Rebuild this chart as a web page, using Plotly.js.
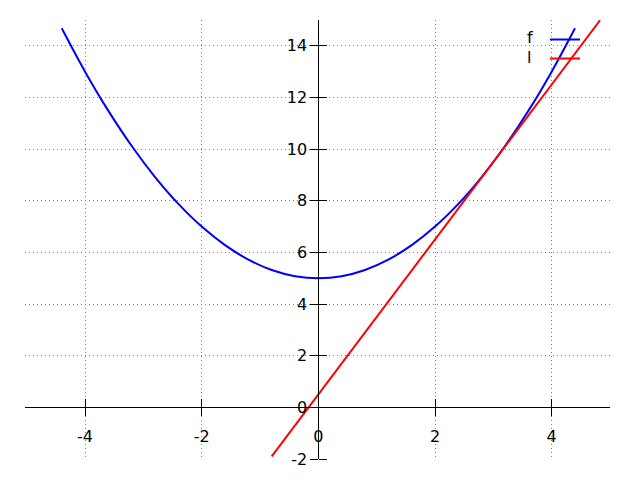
<!DOCTYPE html>
<html>
<head>
<meta charset="utf-8">
<script src="https://cdn.plot.ly/plotly-3.0.1.min.js"></script>
<style>html,body{margin:0;padding:0;background:#fff;}#chart{width:640px;height:480px;}</style>
</head>
<body>
<div id="chart"></div>
<script>
// f(x) curve
var fX = [-4.4, -4.0, -3.6, -3.2, -2.8, -2.4, -2.0, -1.6, -1.2, -0.8, -0.4, 0.0,
          0.4, 0.8, 1.2, 1.6, 2.0, 2.4, 2.8, 3.2, 3.6, 4.0, 4.4];
var fY = [14.68, 13.0, 11.48, 10.12, 8.92, 7.88, 7.0, 6.28, 5.72, 5.32, 5.08, 5.0,
          5.08, 5.32, 5.72, 6.28, 7.0, 7.88, 8.92, 10.12, 11.48, 13.0, 14.68];
// tangent line l(x)
var lX = [-0.8, 4.83];
var lY = [-1.9, 14.99];

var xTicks = [-4, -2, 0, 2, 4];
var yTicks = [-2, 0, 2, 4, 6, 8, 10, 12, 14];
var seriesNames = ["f", "l"];

var xRange = [-5.03, 5.0];
var yRange = [-2, 15];
var xZeroPos = (0 - xRange[0]) / (xRange[1] - xRange[0]);
var yZeroPos = (0 - yRange[0]) / (yRange[1] - yRange[0]);

var font = {family: "DejaVu Sans, sans-serif", size: 16, color: "#000"};
var gridCol = "#808080";

var traces = [
  {x: fX, y: fY, type: "scatter", mode: "lines", name: " ",
   line: {color: "#0000ff", width: 2, shape: "spline"}, hoverinfo: "skip"},
  {x: lX, y: lY, type: "scatter", mode: "lines", name: " ",
   line: {color: "#ff0000", width: 2}, hoverinfo: "skip"}
];

var layout = {
  width: 640, height: 480,
  margin: {l: 25, r: 30, t: 20, b: 21, pad: 0},
  paper_bgcolor: "#fff", plot_bgcolor: "#fff",
  font: font,
  showlegend: true,
  legend: {x: (545 - 25) / 585, y: (459 - 25) / 439, xanchor: "left", yanchor: "top",
           bgcolor: "rgba(0,0,0,0)", borderwidth: 0,
           font: {family: "DejaVu Sans, sans-serif", size: 11, color: "#000"},
           tracegroupgap: 0, itemwidth: 30},
  xaxis: {range: xRange, anchor: "free", position: yZeroPos,
          showline: true, linecolor: "#000", linewidth: 1,
          ticks: "outside", ticklen: 8, tickwidth: 1, tickcolor: "#000",
          tickvals: xTicks, ticktext: xTicks.map(String),
          showgrid: true, gridcolor: gridCol, gridwidth: 1, griddash: "1px,3px",
          zeroline: false, tickfont: font, ticklabelstandoff: 6, fixedrange: true},
  xaxis2: {range: xRange, overlaying: "x", anchor: "free", position: yZeroPos,
           showline: false, ticks: "outside", ticklen: 8, tickwidth: 1, tickcolor: "#000",
           tickvals: xTicks, showticklabels: false, showgrid: false, zeroline: false,
           side: "top", fixedrange: true},
  yaxis: {range: yRange, anchor: "free", position: xZeroPos,
          showline: true, linecolor: "#000", linewidth: 1,
          ticks: "outside", ticklen: 8, tickwidth: 1, tickcolor: "#000",
          tickvals: yTicks, ticktext: yTicks.map(String),
          showgrid: true, gridcolor: gridCol, gridwidth: 1, griddash: "1px,3px",
          zeroline: false, tickfont: font, fixedrange: true},
  yaxis2: {range: yRange, overlaying: "y", anchor: "free", position: xZeroPos,
           showline: false, ticks: "outside", ticklen: 8, tickwidth: 1, tickcolor: "#000",
           tickvals: yTicks, showticklabels: false, showgrid: false, zeroline: false,
           side: "right", fixedrange: true},
  annotations: [
    {xref: "paper", yref: "paper", x: (525 - 25) / 585, y: (459 - 38) / 439,
     xanchor: "left", yanchor: "middle", text: seriesNames[0], showarrow: false, font: font},
    {xref: "paper", yref: "paper", x: (525 - 25) / 585, y: (459 - 57) / 439,
     xanchor: "left", yanchor: "middle", text: seriesNames[1], showarrow: false, font: font}
  ]
};

// invisible helper trace so the overlay tick axes are drawn
traces.push({x: [xRange[0]], y: [yRange[0]], xaxis: "x2", yaxis: "y2", type: "scatter",
             mode: "markers", marker: {opacity: 0}, showlegend: false, hoverinfo: "skip"});

Plotly.newPlot("chart", traces, layout, {displayModeBar: false, staticPlot: true});
</script>
</body>
</html>
